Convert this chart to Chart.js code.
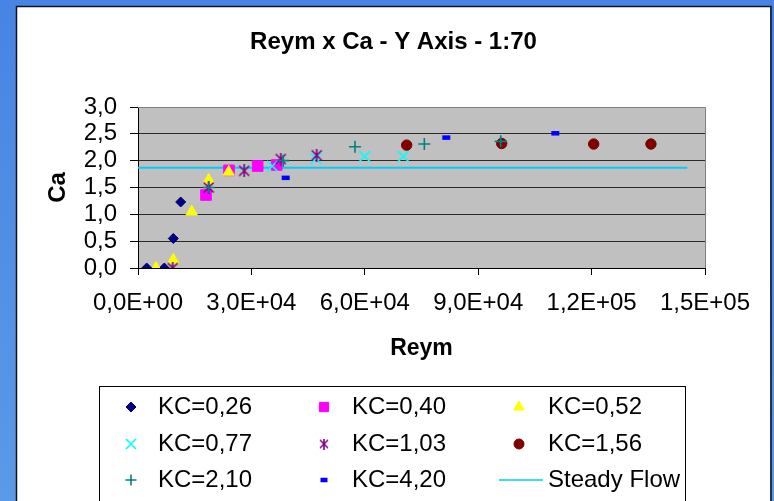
<!DOCTYPE html>
<html><head><meta charset="utf-8">
<script src="https://cdn.jsdelivr.net/npm/chart.js@4/dist/chart.umd.min.js"></script>
<style>html,body{margin:0;padding:0;background:#4a86e3;overflow:hidden}canvas{display:block}</style>
</head><body><canvas id="c" width="774" height="501"></canvas>
<script>
const chartTitle = 'Reym x Ca - Y Axis - 1:70';
const xAxisTitle = 'Reym';
const yAxisTitle = 'Ca';
const xTickLabels = ['0,0E+00','3,0E+04','6,0E+04','9,0E+04','1,2E+05','1,5E+05'];
const yTickLabels = ['0,0','0,5','1,0','1,5','2,0','2,5','3,0'];

const seriesNames = ['KC=0,26','KC=0,40','KC=0,52','KC=0,77','KC=1,03','KC=1,56','KC=2,10','KC=4,20','Steady Flow'];

const kc026X = [2300, 6960, 9340, 11290];
const kc026Y = [0.00, 0.00, 0.55, 1.23];
const kc040X = [17990, 24070, 31660, 36690];
const kc040Y = [1.36, 1.82, 1.90, 1.92];
const kc052X = [4760, 9340, 14200, 18700, 24000];
const kc052Y = [0.00, 0.15, 1.05, 1.64, 1.79];
const kc077X = [35530, 47090, 59970, 70190];
const kc077Y = [1.90, 2.04, 2.08, 2.08];
const kc103X = [9170, 18700, 28100, 37750, 47270];
const kc103Y = [0.00, 1.50, 1.81, 2.03, 2.10];
const kc156X = [71080, 96220, 120550, 135700];
const kc156Y = [2.29, 2.32, 2.31, 2.31];
const kc210X = [18700, 38440, 57400, 75750, 95950];
const kc210Y = [1.50, 2.00, 2.26, 2.31, 2.36];
const kc420X = [39070, 81560, 110400];
const kc420Y = [1.68, 2.43, 2.51];
const steadyX = [0, 145300];
const steadyY = [1.87, 1.87];

const FAM = '"Liberation Sans", Arial, sans-serif';
const pts = (xs, ys) => xs.map((x, i) => ({x: x, y: ys[i]}));

function asteriskImg(size, color) {
  const c = document.createElement('canvas');
  c.width = size; c.height = size + 1;
  const g = c.getContext('2d');
  g.strokeStyle = color; g.lineWidth = 1.6;
  g.beginPath();
  g.moveTo(1, 1.5); g.lineTo(size - 1, size - 0.5);
  g.moveTo(size - 1, 1.5); g.lineTo(1, size - 0.5);
  g.moveTo(size / 2, 0); g.lineTo(size / 2, size + 1);
  g.stroke();
  return c;
}
const starBig = asteriskImg(12, '#800080');
const starSmall = asteriskImg(10, '#800080');

const styles = [
  {pointStyle:'rectRot', radius:5, bg:'#000080', bc:'#000080', bw:1, lr:5},
  {pointStyle:'rect', radius:7.5, bg:'#ff00ff', bc:'#ff00ff', bw:1, lr:6.5},
  {pointStyle:'triangle', radius:6.5, bg:'#ffff00', bc:'#ffff00', bw:1, lr:6},
  {pointStyle:'crossRot', radius:7.5, bg:'#00ffff', bc:'#00ffff', bw:1.6, lr:7},
  {pointStyle:starBig, radius:6, bg:'#800080', bc:'#800080', bw:1, legendImg:starSmall},
  {pointStyle:'circle', radius:5.2, bg:'#800000', bc:'#800000', bw:1, lr:5},
  {pointStyle:'cross', radius:6, bg:'#008080', bc:'#008080', bw:1.6, lr:5.5},
  {pointStyle:'line', radius:4, bg:'#0000ff', bc:'#0000ff', bw:4.5, lr:3.5}
];
const seriesData = [
  pts(kc026X, kc026Y), pts(kc040X, kc040Y), pts(kc052X, kc052Y), pts(kc077X, kc077Y),
  pts(kc103X, kc103Y), pts(kc156X, kc156Y), pts(kc210X, kc210Y), pts(kc420X, kc420Y)
];

const datasets = seriesData.map((d, i) => ({
  type: 'scatter',
  label: seriesNames[i],
  data: d,
  pointStyle: styles[i].pointStyle,
  pointRadius: styles[i].radius,
  pointHoverRadius: styles[i].radius,
  backgroundColor: styles[i].bg,
  borderColor: styles[i].bc,
  borderWidth: styles[i].bw,
  showLine: false,
  order: 8 - i
}));
datasets.push({
  type: 'line',
  label: seriesNames[8],
  data: pts(steadyX, steadyY),
  borderColor: '#00ccff',
  borderWidth: 2,
  pointRadius: 0,
  fill: false,
  order: 20
});

const decorPlugin = {
  id: 'decor',
  beforeDraw(chart) {
    const ctx = chart.ctx, a = chart.chartArea;
    ctx.save();
    const grad = ctx.createLinearGradient(0, 0, 0, 501);
    grad.addColorStop(0, '#4884e3');
    grad.addColorStop(1, '#5a9ae6');
    ctx.fillStyle = grad;
    ctx.fillRect(0, 0, 774, 501);
    ctx.fillStyle = '#ffffff';
    ctx.fillRect(17, 7, 753, 494);
    ctx.strokeStyle = '#111122';
    ctx.lineWidth = 1.5;
    ctx.beginPath();
    ctx.moveTo(16.5, 501); ctx.lineTo(16.5, 6.5); ctx.lineTo(771, 6.5); ctx.lineTo(771, 501);
    ctx.stroke();
    ctx.fillStyle = '#c0c0c0';
    ctx.fillRect(a.left, a.top, a.right - a.left, a.bottom - a.top);
    ctx.fillStyle = '#000';
    ctx.font = 'bold 24px ' + FAM;
    ctx.textAlign = 'center';
    ctx.textBaseline = 'middle';
    ctx.fillText(chartTitle, 393.5, 42);
    ctx.restore();
  },
  beforeDatasetsDraw(chart) {
    const ctx = chart.ctx, a = chart.chartArea;
    ctx.save();
    ctx.strokeStyle = '#808080';
    ctx.lineWidth = 1;
    ctx.beginPath();
    ctx.moveTo(a.left, a.top + 0.5); ctx.lineTo(a.right + 0.5, a.top + 0.5); ctx.lineTo(a.right + 0.5, a.bottom);
    ctx.stroke();
    ctx.restore();
  },
  afterDraw(chart) {
    const ctx = chart.ctx;
    ctx.save();
    ctx.fillStyle = '#fff';
    ctx.fillRect(99, 386, 587, 120);
    ctx.strokeStyle = '#000';
    ctx.lineWidth = 1;
    ctx.strokeRect(99.5, 386.5, 586, 120);
    const colMarker = [131, 324, 519];
    const colText = [158, 352, 548];
    const rowY = [407, 444, 480];
    ctx.font = '24px ' + FAM;
    ctx.textBaseline = 'middle';
    ctx.textAlign = 'left';
    for (let i = 0; i < 9; i++) {
      const r = Math.floor(i / 3), c = i % 3;
      const mx = colMarker[c], my = rowY[r];
      if (i < 8) {
        const s = styles[i];
        ctx.fillStyle = s.bg; ctx.strokeStyle = s.bc; ctx.lineWidth = s.bw;
        if (s.legendImg) {
          Chart.helpers.drawPoint(ctx, {pointStyle: s.legendImg, radius: 5, borderWidth: 1, rotation: 0}, mx, my);
        } else {
          Chart.helpers.drawPoint(ctx, {pointStyle: s.pointStyle, radius: s.lr, borderWidth: s.bw, rotation: 0}, mx, my);
        }
      } else {
        ctx.strokeStyle = '#00ccff'; ctx.lineWidth = 1.5;
        ctx.beginPath(); ctx.moveTo(499, my); ctx.lineTo(543, my); ctx.stroke();
      }
      ctx.fillStyle = '#000';
      ctx.fillText(seriesNames[i], colText[c], my);
    }
    ctx.restore();
  }
};

new Chart(document.getElementById('c'), {
  data: { datasets: datasets },
  options: {
    responsive: false,
    animation: false,
    events: [],
    layout: { padding: { left: 0, right: 69, top: 107, bottom: 133 } },
    plugins: { legend: { display: false }, title: { display: false }, tooltip: { enabled: false } },
    scales: {
      x: {
        type: 'linear', min: 0, max: 150000,
        ticks: { stepSize: 30000, autoSkip: false, maxRotation: 0, minRotation: 0, padding: 14,
          color: '#000', font: { family: FAM, size: 24 },
          callback: (v, i) => xTickLabels[i] },
        grid: { drawOnChartArea: false, drawTicks: true, tickLength: 7, tickColor: '#000', color: '#000' },
        border: { color: '#000', width: 1 },
        title: { display: true, text: xAxisTitle, color: '#000',
          font: { family: FAM, size: 23, weight: 'bold' }, padding: { top: 0, bottom: 6 } },
        afterFit: (s) => { s.height = 100; }
      },
      y: {
        type: 'linear', min: 0, max: 3,
        ticks: { stepSize: 0.5, autoSkip: false, padding: 13, color: '#000', font: { family: FAM, size: 24 },
          callback: (v, i) => yTickLabels[i] },
        grid: { color: (c) => (c.tick && c.tick.value === 3) ? '#808080' : '#2a2a2a',
          tickColor: '#000', tickLength: 8, lineWidth: 1 },
        border: { color: '#000', width: 1 },
        title: { display: true, text: yAxisTitle, color: '#000',
          font: { family: FAM, size: 24, weight: 'bold' }, padding: { top: 44, bottom: 0 } },
        afterFit: (s) => { s.width = 138; }
      }
    }
  },
  plugins: [decorPlugin]
});
</script>
</body></html>
